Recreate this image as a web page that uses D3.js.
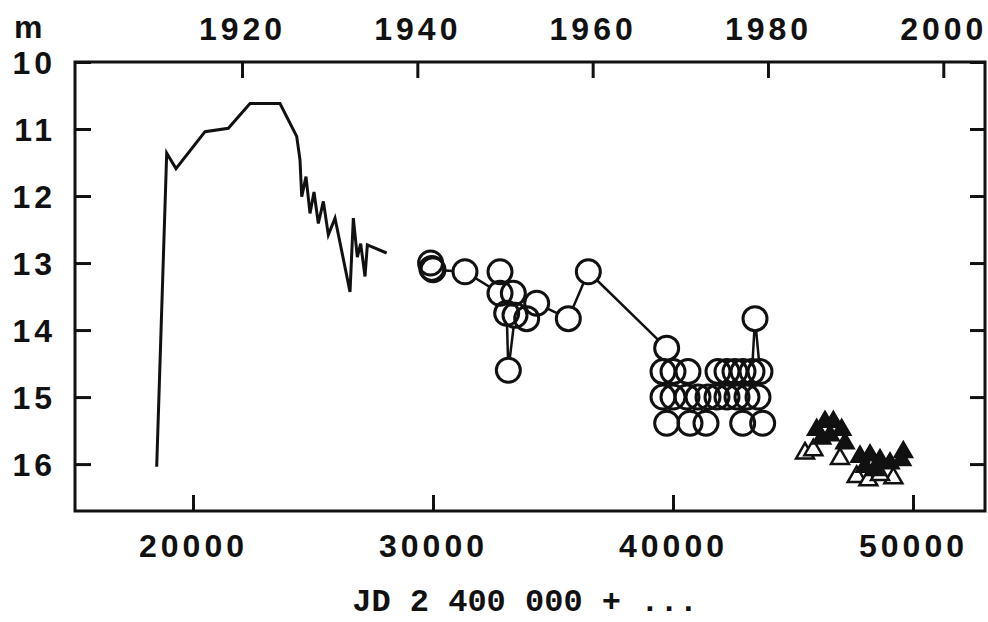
<!DOCTYPE html>
<html>
<head>
<meta charset="utf-8">
<script src="https://cdn.jsdelivr.net/npm/d3@7"></script>
<style>
  html, body { margin: 0; padding: 0; background: #fff; }
  svg { display: block; }
  .tick text { font-family: "Liberation Sans", Arial, sans-serif; font-weight: bold; font-size: 32px; letter-spacing: 4px; fill: #111; }
</style>
</head>
<body>
<div id="chart"></div>
<script>
// historical visual light curve (line)
const histJD  = [18487, 18904, 19292, 20500, 21472, 22375, 23625, 24320, 24458, 24530, 24708, 24875, 25042, 25222, 25431, 25639, 25917, 26542, 26680, 26847, 26986, 27167, 27264, 28069];
const histMag = [16.04, 11.36, 11.59, 11.04, 10.99, 10.62, 10.62, 11.11, 11.46, 12.01, 11.71, 12.26, 11.94, 12.41, 12.08, 12.58, 12.33, 13.43, 12.33, 12.91, 12.71, 13.20, 12.73, 12.85];

// open circles, joined in this order
const circJD  = [29900, 29950, 30000, 31333, 32792, 32792, 33347, 33070, 33139, 33417, 33903, 34320, 35638, 36472, 39736,
                 39583, 39583, 39736, 40000, 40000, 40625, 40583, 40708, 41042, 41375, 41458, 41833, 41875, 42250, 42250,
                 42583, 42667, 42917, 42903, 43083, 43292, 43417, 43625, 43542, 43736];
const circMag = [13.00, 13.08, 13.10, 13.13, 13.45, 13.13, 13.45, 13.75, 14.60, 13.78, 13.83, 13.60, 13.83, 13.13, 14.27,
                 14.62, 15.00, 15.39, 15.00, 14.62, 14.62, 15.00, 15.39, 15.00, 15.39, 15.00, 15.00, 14.62, 14.62, 15.00,
                 14.62, 15.00, 14.62, 15.39, 15.00, 14.62, 13.83, 14.62, 15.00, 15.39];

// recent photometry: filled and open triangles
const triFillJD  = [45986, 46333, 46681, 47028, 46194, 46542, 47167, 47792, 48208, 48625, 48000, 48417, 49597, 49528, 49042];
const triFillMag = [15.49, 15.37, 15.37, 15.49, 15.62, 15.57, 15.69, 15.89, 15.87, 15.94, 16.04, 16.09, 15.82, 15.94, 15.99];
const triOpenJD  = [45500, 45847, 46958, 47653, 48139, 49181, 48625];
const triOpenMag = [15.84, 15.79, 15.92, 16.19, 16.24, 16.21, 16.16];

const jdTicks   = [20000, 30000, 40000, 50000];
const yearTicks = [1920, 1940, 1960, 1980, 2000];
const magTicks  = [10, 11, 12, 13, 14, 15, 16];

const width = 988, height = 622;
const plotL = 75, plotR = 985, plotT = 62, plotB = 511;

const svg = d3.select('#chart').append('svg')
  .attr('width', width)
  .attr('height', height);

const x = d3.scaleLinear().domain([15083, 53000]).range([plotL, plotR]);
const y = d3.scaleLinear().domain([10, 16.7]).range([plotT, plotB]);

// year scale on top, same pixel range
const yearOf = jd => 1920 + (jd - 22042) / 365.25;
const xYear = d3.scaleLinear().domain([yearOf(15083), yearOf(53000)]).range([plotL, plotR]);

// bottom axis
const gB = svg.append('g').attr('transform', `translate(0,${plotB})`)
  .call(d3.axisBottom(x).tickValues(jdTicks).tickFormat(d3.format('d')).tickSize(-16).tickSizeOuter(0));
gB.selectAll('text').attr('y', 46).attr('dy', null);

// top axis
const gT = svg.append('g').attr('transform', `translate(0,${plotT})`)
  .call(d3.axisTop(xYear).tickValues(yearTicks).tickFormat(d3.format('d')).tickSize(-16).tickSizeOuter(0));
gT.selectAll('text').attr('y', -22).attr('dy', null);

// left axis
const gL = svg.append('g').attr('transform', `translate(${plotL},0)`)
  .call(d3.axisLeft(y).tickValues(magTicks).tickFormat(d3.format('d')).tickSize(-16).tickSizeOuter(0));
gL.selectAll('text').attr('x', -19).attr('dy', '0.36em');

// right axis, ticks only
svg.append('g').attr('transform', `translate(${plotR},0)`)
  .call(d3.axisRight(y).tickValues(magTicks).tickSize(-15).tickSizeOuter(0).tickFormat(''));

svg.selectAll('.domain').remove();
svg.selectAll('.tick line').attr('stroke', '#111').attr('stroke-width', 3);

// frame
svg.append('rect')
  .attr('x', plotL).attr('y', plotT)
  .attr('width', plotR - plotL).attr('height', plotB - plotT)
  .attr('fill', 'none').attr('stroke', '#111').attr('stroke-width', 3);

// "m" unit label
svg.append('text')
  .attr('x', 14).attr('y', 38)
  .style('font-family', '"Liberation Sans", Arial, sans-serif')
  .style('font-weight', 'bold').style('font-size', '32px')
  .attr('fill', '#111')
  .text('m');

// axis title
svg.append('text')
  .attr('x', 525).attr('y', 611)
  .attr('text-anchor', 'middle')
  .style('font-family', '"Liberation Mono", "DejaVu Sans Mono", monospace')
  .style('font-weight', 'bold').style('font-size', '32px')
  .attr('fill', '#111')
  .text('JD 2 400 000 + ...');

// historical line
const hist = histJD.map((d, i) => ({ jd: d, m: histMag[i] }));
const line = d3.line().x(d => x(d.jd)).y(d => y(d.m));

svg.append('path')
  .datum(hist)
  .attr('fill', 'none')
  .attr('stroke', '#111')
  .attr('stroke-width', 3)
  .attr('stroke-linejoin', 'miter')
  .attr('d', line);

// circles: connecting line, white discs, then outlines
const circ = circJD.map((d, i) => ({ jd: d, m: circMag[i] }));

svg.append('path')
  .datum(circ)
  .attr('fill', 'none')
  .attr('stroke', '#111')
  .attr('stroke-width', 2.5)
  .attr('d', line);

svg.append('g').selectAll('circle')
  .data(circ).join('circle')
  .attr('cx', d => x(d.jd)).attr('cy', d => y(d.m)).attr('r', 12)
  .attr('fill', '#fff');

svg.append('g').selectAll('circle')
  .data(circ).join('circle')
  .attr('cx', d => x(d.jd)).attr('cy', d => y(d.m)).attr('r', 12)
  .attr('fill', 'none')
  .attr('stroke', '#111')
  .attr('stroke-width', 3);

// triangles
const tri = d3.symbol().type(d3.symbolTriangle).size(140);

svg.append('g').selectAll('path')
  .data(triOpenJD.map((d, i) => ({ jd: d, m: triOpenMag[i] })))
  .join('path')
  .attr('transform', d => `translate(${x(d.jd)},${y(d.m)})`)
  .attr('d', tri)
  .attr('fill', '#fff')
  .attr('stroke', '#111')
  .attr('stroke-width', 2.5);

svg.append('g').selectAll('path')
  .data(triFillJD.map((d, i) => ({ jd: d, m: triFillMag[i] })))
  .join('path')
  .attr('transform', d => `translate(${x(d.jd)},${y(d.m)})`)
  .attr('d', tri)
  .attr('fill', '#111')
  .attr('stroke', '#111')
  .attr('stroke-width', 2);
</script>
</body>
</html>
